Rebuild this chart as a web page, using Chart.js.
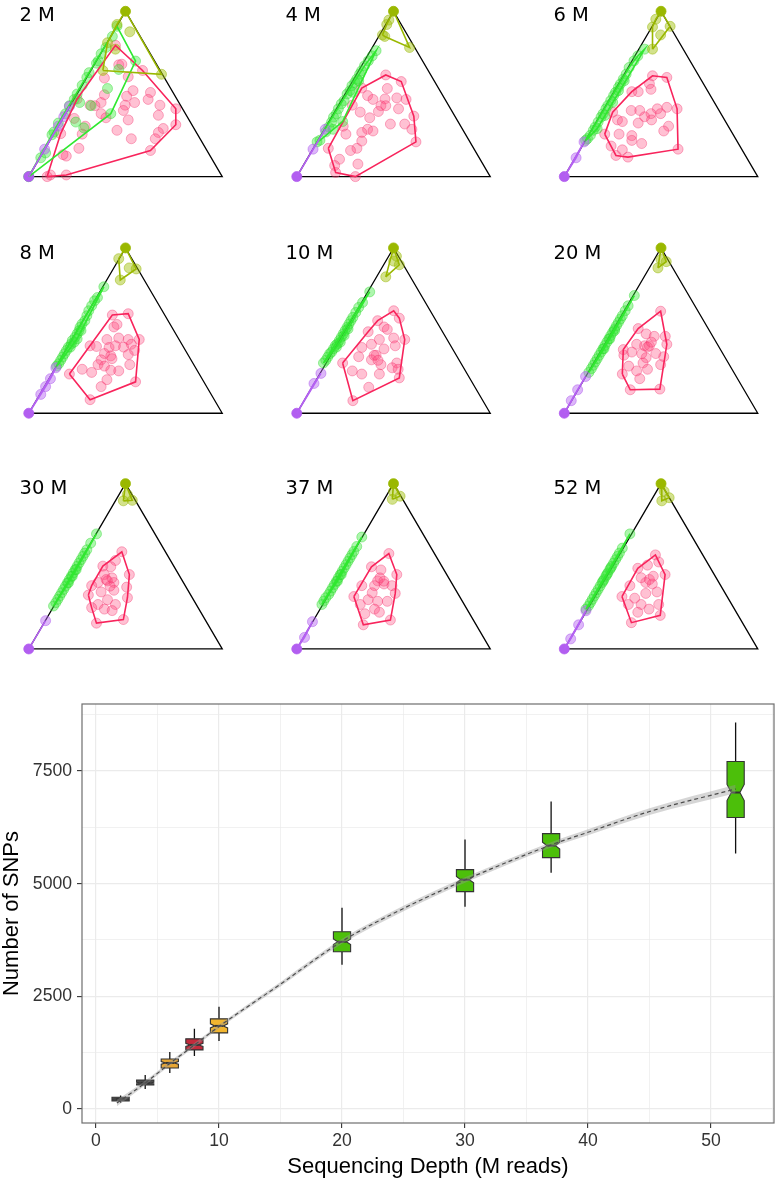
<!DOCTYPE html>
<html>
<head>
<meta charset="utf-8">
<script src="https://cdn.jsdelivr.net/npm/chart.js@4.4.1/dist/chart.umd.min.js"></script>
<style>
  body { margin: 0; width: 778px; height: 1182px; position: relative; background: #fff; overflow: hidden; }
  .lab { position: absolute; font-family: "DejaVu Sans"; font-size: 19.5px; line-height: normal; color: #000; white-space: nowrap; }
  #snp { position: absolute; left: 0; top: 680px; }
</style>
</head>
<body>
<canvas id="snp" width="778" height="502" style="width:778px;height:502px"></canvas>
<script>
// ---- ternary panels: points as [u, v] inside the triangle
// u = position along the base (0 left .. 1 right), v = height (0 base .. 1 apex)
const panelLabels = ['2 M', '4 M', '6 M', '8 M', '10 M', '20 M', '30 M', '37 M', '52 M'];

const pink2 = [[0.448,0.794],[0.465,0.676],[0.481,0.680],[0.588,0.642],[0.514,0.604],[0.391,0.596],[0.629,0.509],[0.617,0.467],[0.539,0.520],[0.506,0.486],[0.547,0.448],[0.498,0.432],[0.489,0.400],[0.391,0.495],[0.374,0.448],[0.342,0.429],[0.317,0.432],[0.374,0.381],[0.399,0.356],[0.678,0.432],[0.670,0.371],[0.760,0.410],[0.760,0.314],[0.514,0.343],[0.456,0.280],[0.530,0.229],[0.695,0.291],[0.670,0.267],[0.654,0.229],[0.629,0.158],[0.292,0.305],[0.276,0.257],[0.259,0.171],[0.194,0.124],[0.177,0.133],[0.112,0.010],[0.095,0.0],[0.194,0.010],[0.235,0.352],[0.25,0.47],[0.165,0.26]];
const green2 = [[0,0],[0.062,0.114],[0.087,0.143],[0.120,0.253],[0.153,0.324],[0.210,0.429],[0.235,0.467],[0.276,0.552],[0.312,0.629],[0.350,0.686],[0.374,0.743],[0.399,0.781],[0.432,0.848],[0.456,0.909],[0.407,0.533],[0.322,0.429],[0.263,0.448],[0.243,0.330],[0.284,0.295],[0.424,0.381],[0.465,0.648],[0.552,0.699],[0.13,0.27],[0.19,0.38],[0.25,0.50],[0.30,0.60],[0.36,0.70]];
const olive2 = [[0.5,1],[0.522,0.876],[0.407,0.810],[0.448,0.771],[0.383,0.642],[0.686,0.619],[0.456,0.920]];
const violet2 = [[0,0],[0.082,0.166],[0.153,0.305],[0.181,0.362],[0.210,0.425]];

const pink4 = [[0.460,0.615],[0.540,0.575],[0.468,0.533],[0.366,0.490],[0.394,0.467],[0.456,0.470],[0.517,0.476],[0.565,0.467],[0.435,0.429],[0.460,0.429],[0.526,0.410],[0.422,0.394],[0.328,0.390],[0.287,0.432],[0.605,0.366],[0.377,0.356],[0.484,0.318],[0.558,0.318],[0.595,0.286],[0.366,0.286],[0.394,0.276],[0.336,0.267],[0.616,0.210],[0.240,0.305],[0.254,0.257],[0.336,0.215],[0.311,0.171],[0.278,0.158],[0.163,0.171],[0.221,0.105],[0.316,0.076],[0.196,0.067],[0.201,0.025],[0.303,0.0],[0.336,0.536]];
const green4 = [[0.105,0.21],[0.12,0.22],[0.188,0.286],[0.237,0.333],[0.15,0.27],[0.165,0.30],[0.18,0.33],[0.19,0.36],[0.205,0.38],[0.215,0.41],[0.23,0.44],[0.245,0.46],[0.26,0.50],[0.275,0.52],[0.285,0.55],[0.30,0.57],[0.31,0.59],[0.325,0.62],[0.335,0.64],[0.35,0.67],[0.37,0.70],[0.39,0.73],[0.41,0.762],[0.29,0.51],[0.32,0.58]];
const olive4 = [[0.5,1],[0.476,0.947],[0.465,0.920],[0.443,0.857],[0.583,0.781],[0.455,0.848]];
const violet4 = [[0,0],[0.084,0.166],[0.147,0.286]];

const pink6 = [[0.456,0.610],[0.530,0.600],[0.440,0.562],[0.448,0.528],[0.382,0.514],[0.349,0.514],[0.530,0.419],[0.583,0.410],[0.481,0.410],[0.498,0.381],[0.448,0.381],[0.390,0.400],[0.346,0.400],[0.415,0.362],[0.451,0.343],[0.382,0.324],[0.275,0.343],[0.300,0.333],[0.539,0.305],[0.514,0.276],[0.283,0.257],[0.349,0.248],[0.209,0.257],[0.349,0.219],[0.250,0.390],[0.588,0.166],[0.267,0.128],[0.329,0.118],[0.300,0.162],[0.242,0.185],[0.40,0.20]];
const green6 = [[0.11,0.219],[0.12,0.23],[0.135,0.25],[0.15,0.28],[0.16,0.30],[0.175,0.33],[0.19,0.36],[0.20,0.38],[0.215,0.41],[0.225,0.43],[0.24,0.46],[0.255,0.49],[0.265,0.51],[0.28,0.54],[0.29,0.56],[0.305,0.59],[0.32,0.62],[0.335,0.66],[0.36,0.70],[0.38,0.73],[0.415,0.771],[0.17,0.29],[0.21,0.37],[0.25,0.45],[0.28,0.52],[0.31,0.58]];
const olive6 = [[0.5,1],[0.473,0.952],[0.456,0.905],[0.547,0.909],[0.456,0.771],[0.498,0.857]];
const violet6 = [[0,0],[0.061,0.114],[0.102,0.210]];

const pink8 = [[0.432,0.594],[0.514,0.602],[0.456,0.537],[0.440,0.522],[0.404,0.446],[0.465,0.455],[0.514,0.446],[0.571,0.446],[0.530,0.417],[0.547,0.380],[0.317,0.408],[0.350,0.404],[0.415,0.398],[0.448,0.408],[0.391,0.361],[0.424,0.347],[0.514,0.355],[0.374,0.323],[0.276,0.266],[0.358,0.294],[0.391,0.285],[0.424,0.260],[0.325,0.247],[0.210,0.237],[0.465,0.256],[0.522,0.294],[0.552,0.190],[0.404,0.203],[0.374,0.161],[0.317,0.082],[0.49,0.40],[0.43,0.33]];
const green8 = [[0.144,0.285],[0.155,0.30],[0.165,0.32],[0.175,0.34],[0.185,0.36],[0.195,0.38],[0.205,0.40],[0.22,0.42],[0.225,0.44],[0.24,0.46],[0.25,0.48],[0.26,0.50],[0.265,0.52],[0.275,0.54],[0.29,0.56],[0.30,0.59],[0.31,0.62],[0.325,0.65],[0.34,0.68],[0.355,0.70],[0.388,0.765],[0.215,0.40],[0.235,0.43],[0.25,0.45],[0.27,0.50]];
const olive8 = [[0.5,1],[0.465,0.935],[0.473,0.806],[0.555,0.873],[0.519,0.879]];
const violet8 = [[0,0],[0.062,0.114],[0.087,0.161],[0.112,0.209],[0.14,0.275]];

const pink10 = [[0.501,0.620],[0.530,0.575],[0.418,0.560],[0.451,0.522],[0.468,0.507],[0.369,0.493],[0.427,0.446],[0.501,0.455],[0.558,0.446],[0.386,0.417],[0.336,0.398],[0.509,0.408],[0.451,0.389],[0.410,0.351],[0.320,0.342],[0.386,0.323],[0.435,0.294],[0.517,0.304],[0.493,0.275],[0.524,0.266],[0.237,0.304],[0.287,0.256],[0.336,0.237],[0.427,0.237],[0.530,0.214],[0.372,0.157],[0.290,0.076],[0.40,0.35],[0.42,0.32]];
const green10 = [[0.138,0.304],[0.15,0.32],[0.16,0.34],[0.17,0.36],[0.18,0.37],[0.19,0.39],[0.20,0.41],[0.21,0.42],[0.22,0.44],[0.23,0.46],[0.24,0.48],[0.25,0.50],[0.26,0.52],[0.27,0.54],[0.28,0.56],[0.29,0.58],[0.305,0.61],[0.32,0.64],[0.34,0.67],[0.377,0.734],[0.205,0.40],[0.225,0.43],[0.245,0.47],[0.265,0.51]];
const olive10 = [[0.5,1],[0.530,0.898],[0.460,0.825],[0.501,0.920],[0.515,0.95]];
const violet10 = [[0,0],[0.089,0.180],[0.125,0.241]];

const pink20 = [[0.498,0.617],[0.382,0.512],[0.423,0.480],[0.465,0.465],[0.522,0.465],[0.374,0.417],[0.415,0.408],[0.440,0.408],[0.530,0.417],[0.308,0.351],[0.305,0.385],[0.349,0.370],[0.473,0.361],[0.423,0.336],[0.514,0.342],[0.407,0.304],[0.333,0.285],[0.374,0.256],[0.430,0.266],[0.300,0.237],[0.498,0.294],[0.390,0.209],[0.341,0.142],[0.494,0.146],[0.43,0.40],[0.40,0.36],[0.45,0.43]];
const green20 = [[0.127,0.247],[0.14,0.27],[0.15,0.29],[0.16,0.31],[0.17,0.33],[0.18,0.35],[0.19,0.37],[0.20,0.39],[0.21,0.41],[0.22,0.43],[0.23,0.45],[0.24,0.47],[0.25,0.49],[0.26,0.51],[0.27,0.53],[0.28,0.55],[0.29,0.57],[0.30,0.59],[0.315,0.62],[0.33,0.65],[0.362,0.712],[0.205,0.39],[0.235,0.45],[0.26,0.50]];
const olive20 = [[0.5,1],[0.484,0.879],[0.527,0.917],[0.50,0.93]];
const violet20 = [[0,0],[0.036,0.076],[0.069,0.142],[0.110,0.222]];

const pink30 = [[0.481,0.588],[0.448,0.535],[0.383,0.501],[0.424,0.497],[0.391,0.450],[0.520,0.450],[0.407,0.412],[0.440,0.402],[0.358,0.402],[0.506,0.374],[0.325,0.383],[0.440,0.355],[0.374,0.345],[0.308,0.326],[0.510,0.310],[0.407,0.298],[0.358,0.269],[0.448,0.269],[0.325,0.250],[0.391,0.241],[0.431,0.232],[0.489,0.178],[0.350,0.156],[0.42,0.38],[0.40,0.42],[0.43,0.43]];
const green30 = [[0.128,0.26],[0.14,0.28],[0.15,0.30],[0.16,0.32],[0.17,0.34],[0.18,0.36],[0.19,0.38],[0.20,0.40],[0.21,0.42],[0.22,0.44],[0.23,0.46],[0.24,0.48],[0.25,0.50],[0.26,0.52],[0.27,0.54],[0.28,0.56],[0.29,0.58],[0.30,0.60],[0.32,0.64],[0.35,0.696],[0.205,0.40],[0.225,0.44],[0.245,0.48]];
const olive30 = [[0.5,1],[0.489,0.896],[0.535,0.899],[0.509,0.934]];
const violet30 = [[0,0],[0.087,0.171]];

const pink37 = [[0.476,0.577],[0.386,0.497],[0.435,0.478],[0.517,0.450],[0.418,0.412],[0.451,0.393],[0.402,0.383],[0.492,0.383],[0.336,0.383],[0.509,0.336],[0.295,0.317],[0.369,0.298],[0.418,0.288],[0.328,0.269],[0.468,0.288],[0.402,0.241],[0.352,0.213],[0.484,0.175],[0.344,0.146],[0.427,0.222],[0.43,0.43],[0.45,0.41],[0.39,0.34]];
const green37 = [[0.13,0.269],[0.14,0.29],[0.15,0.31],[0.165,0.33],[0.175,0.35],[0.185,0.37],[0.195,0.39],[0.205,0.41],[0.215,0.43],[0.225,0.45],[0.235,0.47],[0.245,0.49],[0.255,0.51],[0.265,0.53],[0.275,0.55],[0.285,0.57],[0.295,0.59],[0.31,0.62],[0.336,0.677],[0.21,0.41],[0.23,0.45]];
const olive37 = [[0.5,1],[0.494,0.905],[0.534,0.924],[0.5,0.952]];
const violet37 = [[0,0],[0.040,0.070],[0.081,0.165]];

const pink52 = [[0.471,0.569],[0.430,0.507],[0.380,0.488],[0.488,0.526],[0.521,0.450],[0.421,0.402],[0.455,0.393],[0.397,0.431],[0.339,0.383],[0.479,0.345],[0.421,0.336],[0.298,0.317],[0.364,0.307],[0.397,0.269],[0.488,0.269],[0.331,0.269],[0.438,0.241],[0.380,0.222],[0.496,0.203],[0.347,0.159],[0.44,0.42],[0.46,0.44]];
const green52 = [[0.112,0.241],[0.125,0.26],[0.135,0.28],[0.145,0.30],[0.155,0.32],[0.165,0.34],[0.175,0.36],[0.185,0.38],[0.195,0.40],[0.205,0.42],[0.215,0.44],[0.225,0.46],[0.235,0.48],[0.245,0.50],[0.255,0.52],[0.265,0.54],[0.275,0.56],[0.285,0.58],[0.30,0.61],[0.339,0.696],[0.20,0.41],[0.22,0.45],[0.24,0.49]];
const olive52 = [[0.5,1],[0.504,0.896],[0.542,0.915],[0.516,0.953]];
const violet52 = [[0,0],[0.033,0.061],[0.074,0.146],[0.112,0.231]];

// ---- SNP counts per sequencing depth (box stats)
const depth = [2, 4, 6, 8, 10, 20, 30, 37, 52];
const whiskerLow = [140, 444, 800, 1178, 1511, 3200, 4489, 5244, 5667];
const q1 = [178, 533, 911, 1311, 1689, 3489, 4822, 5578, 6467];
const median = [222, 578, 1022, 1422, 1844, 3711, 5089, 5844, 7022];
const q3 = [262, 644, 1111, 1556, 2000, 3933, 5311, 6111, 7711];
const whiskerHigh = [300, 756, 1267, 1778, 2267, 4467, 5978, 6822, 8578];
const nPerBox = 120;

// smoothed fit (dashed line) and its confidence band
const fitX = [1.7, 4, 6, 8, 10, 15, 20, 25, 30, 37, 40, 45, 52];
const fitY = [133, 578, 1010, 1420, 1830, 2770, 3720, 4450, 5080, 5860, 6140, 6600, 7100];
const fitSe = [70, 50, 45, 45, 45, 50, 55, 60, 60, 60, 65, 75, 95];

const xTicks = [0, 5, 10, 15, 20, 25, 30, 35, 40, 45, 50, 55];
const yTicks = [0, 1250, 2500, 3750, 5000, 6250, 7500, 8750];

// ---- styles / layout
const groupStyle = [
  { line: '#f8245c', fill: 'rgba(255,72,126,0.34)', edge: 'rgba(240,40,100,0.45)', solid: '#ff4a80' },
  { line: '#30e830', fill: 'rgba(52,232,52,0.40)', edge: 'rgba(40,215,40,0.5)', solid: '#37e837' },
  { line: '#9ab800', fill: 'rgba(158,190,0,0.45)', edge: 'rgba(150,182,0,0.6)', solid: '#9ab800' },
  { line: '#b460f2', fill: 'rgba(180,96,242,0.45)', edge: 'rgba(170,86,236,0.6)', solid: '#b25ef0' }
];
const boxColors = ['#4d4d4d', '#4d4d4d', '#e8a735', '#c32a3c', '#f2b630', '#4cbf0a', '#4cbf0a', '#4cbf0a', '#4cbf0a'];
const TRI_W = 203, TRI_H = 175.5;
const colX = [24, 292, 559.5], rowBase = [181.7, 418.3, 654];
const labX = [19.5, 285.5, 553.5], labBase = [20.7, 259.3, 494.3];

const panels = [
  [pink2, green2, olive2, violet2], [pink4, green4, olive4, violet4], [pink6, green6, olive6, violet6],
  [pink8, green8, olive8, violet8], [pink10, green10, olive10, violet10], [pink20, green20, olive20, violet20],
  [pink30, green30, olive30, violet30], [pink37, green37, olive37, violet37], [pink52, green52, olive52, violet52]
];

function hull(pts) {
  const p = pts.map(a => ({ x: a[0], y: a[1] })).sort((a, b) => a.x - b.x || a.y - b.y);
  const cross = (o, a, b) => (a.x - o.x) * (b.y - o.y) - (a.y - o.y) * (b.x - o.x);
  const lo = [], up = [];
  for (const q of p) { while (lo.length >= 2 && cross(lo[lo.length - 2], lo[lo.length - 1], q) <= 0) lo.pop(); lo.push(q); }
  for (const q of p.slice().reverse()) { while (up.length >= 2 && cross(up[up.length - 2], up[up.length - 1], q) <= 0) up.pop(); up.push(q); }
  lo.pop(); up.pop();
  const h = lo.concat(up);
  h.push(h[0]);
  return h;
}

const isCorner = r => r && ((Math.abs(r.x) < 0.005 && Math.abs(r.y) < 0.005) || (Math.abs(r.x - 0.5) < 0.005 && Math.abs(r.y - 1) < 0.005));

panels.forEach((groups, i) => {
  const c = i % 3, r = Math.floor(i / 3);
  const W = 247, H = 200;
  const left = Math.round(colX[c] - 22), top = Math.round(rowBase[r] - TRI_H - 12);
  const padL = colX[c] - left, padT = rowBase[r] - TRI_H - top, padB = H - padT - TRI_H;

  const cv = document.createElement('canvas');
  cv.width = W; cv.height = H;
  cv.style.cssText = `position:absolute;left:${left}px;top:${top}px;width:${W}px;height:${H}px`;
  document.body.appendChild(cv);

  const lab = document.createElement('div');
  lab.className = 'lab';
  lab.textContent = panelLabels[i];
  lab.style.left = labX[c] + 'px';
  lab.style.top = (labBase[r] - 18.1) + 'px';
  document.body.appendChild(lab);

  const datasets = [{
    type: 'scatter', showLine: true,
    data: [{ x: 0, y: 0 }, { x: 1, y: 0 }, { x: 0.5, y: 1 }, { x: 0, y: 0 }],
    borderColor: '#000', borderWidth: 1.3, pointRadius: 0, order: 100, clip: false
  }];
  groups.forEach((pts, g) => {
    const st = groupStyle[g];
    datasets.push({
      type: 'scatter',
      data: pts.map(a => ({ x: a[0], y: a[1] })),
      pointRadius: 5,
      pointHoverRadius: 5,
      backgroundColor: ctx => isCorner(ctx.raw) ? st.solid : st.fill,
      borderColor: ctx => isCorner(ctx.raw) ? st.solid : st.edge,
      borderWidth: 0.8,
      order: 50 - g,
      clip: false
    });
    datasets.push({
      type: 'scatter', showLine: true,
      data: hull(pts),
      borderColor: st.line, borderWidth: 1.6,
      pointRadius: 0, order: 10 - g, clip: false
    });
  });

  new Chart(cv, {
    type: 'scatter',
    data: { datasets },
    options: {
      responsive: false,
      animation: false,
      events: [],
      layout: { padding: 0 },
      plugins: { legend: { display: false }, tooltip: { enabled: false } },
      scales: {
        x: { type: 'linear', display: false, bounds: 'data', min: -padL / TRI_W, max: (W - padL) / TRI_W },
        y: { type: 'linear', display: false, bounds: 'data', min: -padB / TRI_H, max: 1 + padT / TRI_H }
      }
    }
  });
});

// ---- notched box plot drawn through the chart scales
const boxPlugin = {
  id: 'boxes',
  beforeDatasetsDraw(chart) {
    const { ctx, scales: { x, y } } = chart;
    const BOX_W = 1.4;
    ctx.save();
    depth.forEach((d, i) => {
      const xc = x.getPixelForValue(d);
      const hw = x.getPixelForValue(d + BOX_W / 2) - xc;
      const notch = 1.58 * (q3[i] - q1[i]) / Math.sqrt(nPerBox);
      const yq3 = y.getPixelForValue(q3[i]), yq1 = y.getPixelForValue(q1[i]);
      const ym = y.getPixelForValue(median[i]);
      const ynU = y.getPixelForValue(median[i] + notch), ynL = y.getPixelForValue(median[i] - notch);
      // whiskers
      ctx.strokeStyle = '#111';
      ctx.lineWidth = 1.3;
      ctx.beginPath();
      ctx.moveTo(xc, y.getPixelForValue(whiskerHigh[i])); ctx.lineTo(xc, yq3);
      ctx.moveTo(xc, yq1); ctx.lineTo(xc, y.getPixelForValue(whiskerLow[i]));
      ctx.stroke();
      // notched box
      ctx.beginPath();
      ctx.moveTo(xc - hw, yq3);
      ctx.lineTo(xc - hw, ynU);
      ctx.lineTo(xc - hw / 2, ym);
      ctx.lineTo(xc - hw, ynL);
      ctx.lineTo(xc - hw, yq1);
      ctx.lineTo(xc + hw, yq1);
      ctx.lineTo(xc + hw, ynL);
      ctx.lineTo(xc + hw / 2, ym);
      ctx.lineTo(xc + hw, ynU);
      ctx.lineTo(xc + hw, yq3);
      ctx.closePath();
      ctx.fillStyle = boxColors[i];
      ctx.fill();
      ctx.strokeStyle = '#333';
      ctx.lineWidth = 1.1;
      ctx.stroke();
      // median
      ctx.lineWidth = 2;
      ctx.beginPath();
      ctx.moveTo(xc - hw / 2, ym); ctx.lineTo(xc + hw / 2, ym);
      ctx.stroke();
    });
    ctx.restore();
  },
  afterDatasetsDraw(chart) {
    const { ctx, chartArea: a } = chart;
    ctx.save();
    ctx.strokeStyle = '#6e6e6e';
    ctx.lineWidth = 1.2;
    ctx.strokeRect(a.left, a.top, a.right - a.left, a.bottom - a.top);
    ctx.restore();
  }
};

const FONT = "'Liberation Sans', Arial, sans-serif";
const tickFont = { family: FONT, size: 17.6 };
const titleFont = { family: FONT, size: 22, lineHeight: 1.1 };

new Chart(document.getElementById('snp'), {
  type: 'line',
  data: {
    datasets: [
      {
        data: fitX.map((v, i) => ({ x: v, y: fitY[i] + fitSe[i] })),
        borderWidth: 0, pointRadius: 0, fill: '+1',
        backgroundColor: 'rgba(153,153,153,0.4)', cubicInterpolationMode: 'monotone'
      },
      {
        data: fitX.map((v, i) => ({ x: v, y: fitY[i] - fitSe[i] })),
        borderWidth: 0, pointRadius: 0, fill: false, cubicInterpolationMode: 'monotone'
      },
      {
        data: fitX.map((v, i) => ({ x: v, y: fitY[i] })),
        borderColor: '#1a1a1a', borderWidth: 1.2, borderDash: [4, 3],
        pointRadius: 0, fill: false, cubicInterpolationMode: 'monotone'
      }
    ]
  },
  options: {
    responsive: false,
    animation: false,
    events: [],
    layout: { padding: { top: 24, right: 4, left: 0, bottom: 0 } },
    plugins: { legend: { display: false }, tooltip: { enabled: false } },
    scales: {
      x: {
        type: 'linear', bounds: 'data', min: -1.138, max: 55.12,
        afterBuildTicks: s => { s.ticks = xTicks.map(v => ({ value: v })); },
        afterFit: s => { s.height = 59; },
        ticks: { font: tickFont, color: '#333', padding: 3, maxRotation: 0, autoSkip: false,
          callback: v => (v % 10 === 0 ? String(v) : '') },
        grid: {
          color: '#ebebeb',
          lineWidth: c => (c.tick && c.tick.value % 10 === 0 ? 1.2 : 0.7),
          tickLength: 5,
          tickColor: c => (c.tick && c.tick.value % 10 === 0 ? '#333' : 'rgba(0,0,0,0)'),
          tickWidth: 1.1
        },
        border: { display: false },
        title: { display: true, text: 'Sequencing Depth (M reads)', font: titleFont, color: '#000', padding: { top: 0, bottom: 3 } }
      },
      y: {
        type: 'linear', bounds: 'data', min: -310.6, max: 8986,
        afterBuildTicks: s => { s.ticks = yTicks.map(v => ({ value: v })); },
        afterFit: s => { s.width = 82; },
        ticks: { font: tickFont, color: '#333', padding: 5, autoSkip: false,
          callback: v => (v % 2500 === 0 ? String(v) : '') },
        grid: {
          color: '#ebebeb',
          lineWidth: c => (c.tick && c.tick.value % 2500 === 0 ? 1.2 : 0.7),
          tickLength: 5,
          tickColor: c => (c.tick && c.tick.value % 2500 === 0 ? '#333' : 'rgba(0,0,0,0)'),
          tickWidth: 1.1
        },
        border: { display: false },
        title: { display: true, text: 'Number of SNPs', font: titleFont, color: '#000', padding: { top: 0, bottom: 0 } }
      }
    }
  },
  plugins: [boxPlugin]
});
</script>
</body>
</html>
